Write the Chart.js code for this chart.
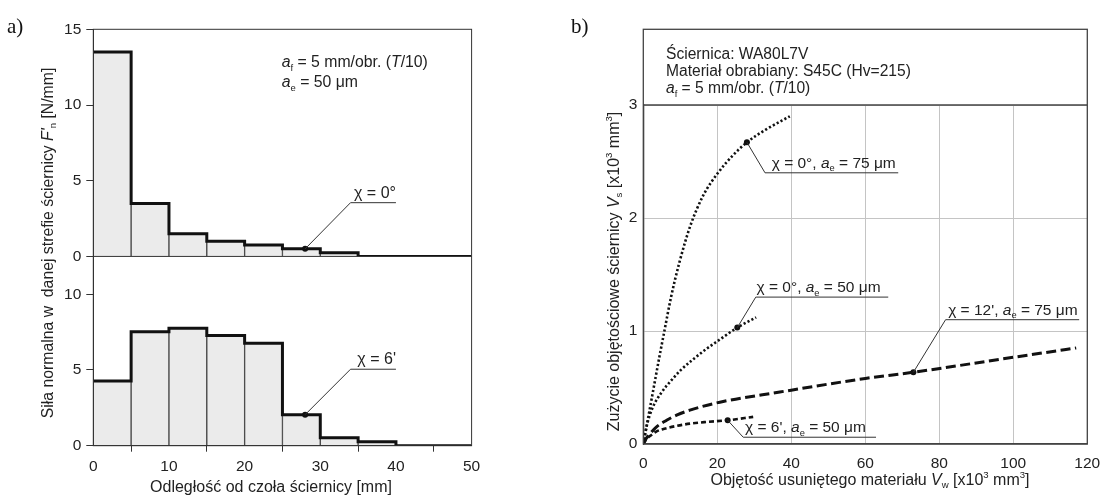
<!DOCTYPE html>
<html>
<head>
<meta charset="utf-8">
<script src="https://cdn.jsdelivr.net/npm/chart.js@4.4.0/dist/chart.umd.min.js"></script>
<style>
  html, body { margin: 0; padding: 0; background: #fff; }
  body { width: 1114px; height: 495px; position: relative; overflow: hidden; }
  canvas { position: absolute; top: 0; }
  #chartA { left: 0; }
  #chartB { left: 560px; }
</style>
</head>
<body>
<canvas id="chartA" width="560" height="495"></canvas>
<canvas id="chartB" width="554" height="495"></canvas>
<script>
// ---- panel a) : force per zone, 5 mm bins
const binEdges = [0, 5, 10, 15, 20, 25, 30, 35, 40, 45, 50];
const forceChi0 = [13.5, 3.5, 1.5, 1.0, 0.75, 0.5, 0.25, 0, 0, 0];
const forceChi6 = [4.28, 7.53, 7.76, 7.27, 6.77, 2.05, 0.53, 0.26, 0, 0];
const distTicks = [0, 10, 20, 30, 40, 50];
const forceTicksTop = [0, 5, 10, 15];
const forceTicksBot = [0, 5, 10];
const markerDist = 28;
const markerBin = 5;
const labelsA = ['χ = 0°', "χ = 6'"];

// ---- panel b) : wheel wear vs removed volume
const curveNames = ['χ = 0°, *a*_e_ = 75 μm', 'χ = 0°, *a*_e_ = 50 μm', "χ = 12', *a*_e_ = 75 μm", "χ = 6', *a*_e_ = 50 μm"];
const wear75x = [0, 1.75, 3.1, 4.4, 5.7, 7.5, 9.7, 12.7, 16.2, 20.2, 24.1, 28, 33, 39.6];
const wear75y = [0, 0.31, 0.55, 0.78, 1.0, 1.3, 1.6, 1.93, 2.2, 2.4, 2.55, 2.67, 2.78, 2.9];
const wear50x = [0, 1, 2.5, 5, 7.5, 10, 13.5, 17, 20.5, 25.4, 30.5];
const wear50y = [0, 0.17, 0.32, 0.46, 0.56, 0.65, 0.75, 0.84, 0.92, 1.03, 1.12];
const wear12x = [0, 0.8, 1.8, 3.5, 6.3, 9, 12.6, 20.7, 36.9, 60, 73, 100, 117];
const wear12y = [0, 0.05, 0.09, 0.15, 0.21, 0.255, 0.3, 0.37, 0.46, 0.58, 0.635, 0.767, 0.85];
const wear6x = [0, 0.8, 1.8, 3.5, 6.3, 9, 12.6, 17, 22.8, 29.7];
const wear6y = [0, 0.04, 0.07, 0.11, 0.14, 0.16, 0.18, 0.195, 0.21, 0.24];
const markerIndex = [11, 9, 10, 8];
const volTicks = [0, 20, 40, 60, 80, 100, 120];
const wearTicks = [0, 1, 2, 3];

const FONT = '"Liberation Sans", Arial, sans-serif';
Chart.defaults.font.family = FONT;
Chart.defaults.font.size = 15;
Chart.defaults.color = '#222';
Chart.defaults.animation = false;

// tiny markup: *italic*  _sub_  ^sup^
function parseRich(markup) {
    const runs = [];
    let it = false, sub = false, sup = false, buf = '';
    const push = () => { if (buf) runs.push({ t: buf, it, sub, sup }); buf = ''; };
    for (const ch of markup) {
        if (ch === '*') { push(); it = !it; }
        else if (ch === '_') { push(); sub = !sub; }
        else if (ch === '^') { push(); sup = !sup; }
        else buf += ch;
    }
    push();
    return runs;
}

function drawRich(ctx, markup, x, y, size, align, angle) {
    const runs = parseRich(markup);
    let total = 0;
    runs.forEach(r => {
        r.size = (r.sub || r.sup) ? size * 0.6 : size;
        r.font = (r.it ? 'italic ' : '') + r.size + 'px ' + FONT;
        ctx.font = r.font;
        r.w = ctx.measureText(r.t).width;
        total += r.w;
    });
    ctx.save();
    ctx.translate(x, y);
    if (angle) ctx.rotate(angle);
    ctx.fillStyle = '#222';
    ctx.textAlign = 'left';
    ctx.textBaseline = 'alphabetic';
    let cx = align === 'center' ? -total / 2 : align === 'right' ? -total : 0;
    const base = size * 0.36;
    runs.forEach(r => {
        ctx.font = r.font;
        const dy = r.sub ? size * 0.22 : r.sup ? -size * 0.42 : 0;
        ctx.fillText(r.t, cx, base + dy);
        cx += r.w;
    });
    ctx.restore();
}

function line(ctx, pts, color, width) {
    ctx.save();
    ctx.strokeStyle = color;
    ctx.lineWidth = width;
    ctx.beginPath();
    pts.forEach((p, i) => i ? ctx.lineTo(p[0], p[1]) : ctx.moveTo(p[0], p[1]));
    ctx.stroke();
    ctx.restore();
}

function panelLabel(ctx, txt, x, y) {
    ctx.save();
    ctx.font = '21px "Liberation Serif", "Times New Roman", serif';
    ctx.fillStyle = '#111';
    ctx.textBaseline = 'middle';
    ctx.fillText(txt, x, y);
    ctx.restore();
}

// ---------------- panel a)
const binCenters = binEdges.slice(0, -1).map((e, i) => (e + binEdges[i + 1]) / 2);
const stepPoints = vals => binEdges.map((x, i) => ({ x, y: vals[Math.min(i, vals.length - 1)] }));
const barPoints = vals => binCenters.map((x, i) => ({ x, y: vals[i] }));

const barStyle = {
    type: 'bar', backgroundColor: '#ebebeb', borderColor: '#444', borderWidth: 1,
    barPercentage: 1, categoryPercentage: 1, grouped: false, order: 3
};
const stepStyle = {
    type: 'line', stepped: 'before', borderColor: '#111', borderWidth: 3,
    pointRadius: 0, fill: false, order: 1
};

const leadA = [{ axis: 'yTop', x0: 34.0, y0: 3.55, x1: 40 }, { axis: 'yBot', x0: 34.0, y0: 5.05, x1: 40 }];

const panelAPlugin = {
    id: 'panelA',
    afterDraw(chart) {
        const ctx = chart.ctx;
        const a = chart.chartArea;
        const xs = chart.scales.x;
        // frame + separator
        ctx.save();
        ctx.strokeStyle = '#333';
        ctx.lineWidth = 1;
        ctx.strokeRect(a.left, a.top, a.right - a.left, a.bottom - a.top);
        ctx.restore();
        const ySep = chart.scales.yTop.getPixelForValue(0);
        line(ctx, [[a.left, ySep], [a.right, ySep]], '#333', 1);

        // annotations
        [forceChi0, forceChi6].forEach((vals, k) => {
            const ys = chart.scales[leadA[k].axis];
            const px = xs.getPixelForValue(markerDist), py = ys.getPixelForValue(vals[markerBin]);
            const lx = xs.getPixelForValue(leadA[k].x0), ly = ys.getPixelForValue(leadA[k].y0);
            const ex = xs.getPixelForValue(leadA[k].x1);
            line(ctx, [[px, py], [lx, ly], [ex, ly]], '#333', 1);
            drawRich(ctx, labelsA[k], ex, ly - 10.5, 16, 'right');
        });

        drawRich(ctx, '*a*_f_ = 5 mm/obr. (*T*/10)', 281.7, 61.7, 15.8, 'left');
        drawRich(ctx, '*a*_e_ = 50 μm', 281.7, 81.7, 15.8, 'left');

        drawRich(ctx, 'Odległość od czoła ściernicy [mm]', 271, 486.7, 16, 'center');
        drawRich(ctx, "Siła normalna w  danej strefie ściernicy *F'*_n_ [N/mm]", 47, 243, 15.8, 'center', -Math.PI / 2);
        panelLabel(ctx, 'a)', 7, 27);
    }
};

const yCommonA = {
    type: 'linear', position: 'left', stack: 'a',
    grid: { drawOnChartArea: false, tickLength: 7, color: '#333' },
    border: { color: '#333' },
    ticks: { padding: 5, color: '#222', font: { size: 15.5 } },
    afterFit: s => { s.width = 93.3; }
};

new Chart(document.getElementById('chartA'), {
    data: {
        datasets: [
            Object.assign({ data: barPoints(forceChi0), yAxisID: 'yTop' }, barStyle),
            Object.assign({ data: barPoints(forceChi6), yAxisID: 'yBot' }, barStyle),
            Object.assign({ data: stepPoints(forceChi0), yAxisID: 'yTop' }, stepStyle),
            Object.assign({ data: stepPoints(forceChi6), yAxisID: 'yBot' }, stepStyle),
            { type: 'scatter', data: [{ x: markerDist, y: forceChi0[markerBin] }], yAxisID: 'yTop',
              pointRadius: 3, backgroundColor: '#111', borderWidth: 0, order: 0 },
            { type: 'scatter', data: [{ x: markerDist, y: forceChi6[markerBin] }], yAxisID: 'yBot',
              pointRadius: 3, backgroundColor: '#111', borderWidth: 0, order: 0 }
        ]
    },
    options: {
        responsive: false,
        devicePixelRatio: 1,
        layout: { padding: { top: 29.3, right: 88.4, left: 0, bottom: 0 } },
        plugins: { legend: { display: false }, tooltip: { enabled: false } },
        scales: {
            x: {
                type: 'linear', min: 0, max: 50, offset: false,
                grid: { drawOnChartArea: false, tickLength: 6, color: '#333' },
                border: { color: '#333' },
                ticks: { padding: 6, color: '#222', font: { size: 15.5 } },
                afterBuildTicks: s => { s.ticks = distTicks.map(v => ({ value: v })); },
                afterFit: s => { s.height = 49.3; }
            },
            yTop: Object.assign({}, yCommonA, {
                min: 0, max: 15, stackWeight: 15, weight: 2,
                afterBuildTicks: s => { s.ticks = forceTicksTop.map(v => ({ value: v })); }
            }),
            yBot: Object.assign({}, yCommonA, {
                min: 0, max: 12.5, stackWeight: 12.5, weight: 1,
                afterBuildTicks: s => { s.ticks = forceTicksBot.map(v => ({ value: v })); }
            })
        }
    },
    plugins: [panelAPlugin]
});

// ---------------- panel b)
const toPts = (xs, ys) => xs.map((x, i) => ({ x, y: ys[i] }));
const curves = [
    { pts: toPts(wear75x, wear75y), dash: [2.2, 2.2], width: 2.6 },
    { pts: toPts(wear50x, wear50y), dash: [2.2, 2.2], width: 2.6 },
    { pts: toPts(wear12x, wear12y), dash: [10, 4.5], width: 3 },
    { pts: toPts(wear6x, wear6y), dash: [5, 3], width: 2.6 }
];
// leader end (data units), underline end x, text start x
const leadBx = [32.9, 30.4, 81.7, 27.0];
const leadBy = [2.40, 1.30, 1.10, 0.06];
const leadBend = [68.9, 66.2, 117.8, 62.9];
const textBx = [34.7, 30.6, 82.4, 27.5];

const headerB = ['Ściernica: WA80L7V', 'Materiał obrabiany: S45C (Hv=215)', '*a*_f_ = 5 mm/obr. (*T*/10)'];

const panelBPlugin = {
    id: 'panelB',
    afterDraw(chart) {
        const ctx = chart.ctx;
        const a = chart.chartArea;
        const xs = chart.scales.x, ys = chart.scales.y;
        const boxTop = 29.3;
        ctx.save();
        ctx.strokeStyle = '#444';
        ctx.lineWidth = 1.3;
        ctx.strokeRect(a.left, boxTop, a.right - a.left, a.bottom - boxTop);
        ctx.restore();
        line(ctx, [[a.left, a.top], [a.right, a.top]], '#444', 1.3);

        headerB.forEach((t, i) => drawRich(ctx, t, 106, 53.3 + i * 17.1, 15.6, 'left'));

        curves.forEach((c, k) => {
            const p = c.pts[markerIndex[k]];
            const px = xs.getPixelForValue(p.x), py = ys.getPixelForValue(p.y);
            const lx = xs.getPixelForValue(leadBx[k]), ly = ys.getPixelForValue(leadBy[k]);
            const ex = xs.getPixelForValue(leadBend[k]);
            line(ctx, [[px, py], [lx, ly], [ex, ly]], '#333', 1);
            drawRich(ctx, curveNames[k], xs.getPixelForValue(textBx[k]), ly - 10.5, 15.5, 'left');
        });

        drawRich(ctx, 'Objętość usuniętego materiału *V*_w_ [x10^3^ mm^3^]', 310, 479, 16, 'center');
        drawRich(ctx, 'Zużycie objętościowe ściernicy *V*_s_ [x10^3^ mm^3^]', 53, 271.5, 16, 'center', -Math.PI / 2);
        panelLabel(ctx, 'b)', 11, 27);
    }
};

new Chart(document.getElementById('chartB'), {
    type: 'line',
    data: {
        datasets: curves.map(c => ({
            data: c.pts, borderColor: '#111', borderWidth: c.width, borderDash: c.dash,
            borderCapStyle: 'butt', pointRadius: 0, fill: false,
            cubicInterpolationMode: 'monotone', order: 1
        })).concat([{
            type: 'scatter',
            data: curves.map((c, k) => c.pts[markerIndex[k]]),
            pointRadius: 3, backgroundColor: '#111', borderWidth: 0, order: 0
        }])
    },
    options: {
        responsive: false,
        devicePixelRatio: 1,
        layout: { padding: { top: 105, right: 26.7, left: 0, bottom: 0 } },
        plugins: { legend: { display: false }, tooltip: { enabled: false } },
        scales: {
            x: {
                type: 'linear', min: 0, max: 120,
                grid: { color: '#c4c4c4', drawTicks: false },
                border: { color: '#444', width: 1.3 },
                ticks: { padding: 10, color: '#222', font: { size: 15.5 } },
                afterBuildTicks: s => { s.ticks = volTicks.map(v => ({ value: v })); },
                afterFit: s => { s.height = 51; }
            },
            y: {
                type: 'linear', min: 0, max: 3,
                grid: { color: '#c4c4c4', drawTicks: false },
                border: { color: '#444', width: 1.3 },
                ticks: { padding: 6, color: '#222', font: { size: 15.5 } },
                afterBuildTicks: s => { s.ticks = wearTicks.map(v => ({ value: v })); },
                afterFit: s => { s.width = 83.3; }
            }
        }
    },
    plugins: [panelBPlugin]
});
</script>
</body>
</html>
